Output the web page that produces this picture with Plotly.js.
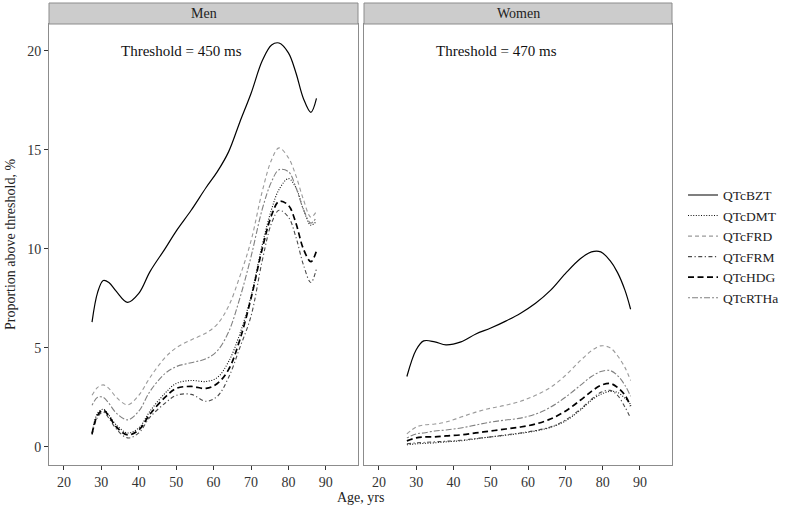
<!DOCTYPE html>
<html>
<head>
<meta charset="utf-8">
<script src="https://cdn.plot.ly/plotly-3.0.1.min.js"></script>
<style>
html,body{margin:0;padding:0;background:#fff;}
#chart{width:785px;height:507px;}
</style>
</head>
<body>
<div id="chart"></div>
<script>
// ---- Data ----
const panels = ["Men", "Women"];
const thresholds = ["Threshold = 450 ms", "Threshold = 470 ms"];
const seriesNames = ["QTcBZT", "QTcDMT", "QTcFRD", "QTcFRM", "QTcHDG", "QTcRTHa"];
const xTicks = [20, 30, 40, 50, 60, 70, 80, 90];
const yTicks = [0, 5, 10, 15, 20];

const ageMen = [27.5, 29, 30.5, 32, 34, 37, 40, 43, 47, 50, 54, 58, 61, 64, 67, 70, 73, 75.5, 77.5, 80, 82, 84, 86, 87.5];
const menBZT  = [6.3, 7.8, 8.4, 8.3, 7.85, 7.3, 7.75, 8.85, 10.0, 10.9, 11.95, 13.1, 13.9, 14.9, 16.4, 17.85, 19.5, 20.3, 20.4, 19.9, 18.9, 17.6, 16.9, 17.6];
const menDMT  = [0.7, 1.7, 1.9, 1.6, 1.1, 0.7, 0.95, 1.8, 2.7, 3.2, 3.35, 3.3, 3.5, 4.3, 5.7, 7.6, 10.2, 12.0, 13.0, 13.55, 13.1, 12.0, 11.2, 11.4];
const menFRD  = [2.6, 3.0, 3.13, 2.95, 2.5, 2.12, 2.6, 3.5, 4.5, 5.0, 5.4, 5.75, 6.2, 7.1, 8.6, 10.4, 12.9, 14.5, 15.1, 14.6, 13.7, 12.5, 11.6, 11.9];
const menFRM  = [0.6, 1.5, 1.75, 1.45, 0.9, 0.45, 0.7, 1.5, 2.2, 2.6, 2.65, 2.3, 2.55, 3.5, 5.0, 6.6, 9.4, 11.3, 11.95, 11.6, 10.6, 9.2, 8.3, 9.0];
const menHDG  = [0.65, 1.6, 1.85, 1.55, 1.0, 0.6, 0.85, 1.65, 2.5, 2.95, 3.05, 2.95, 3.2, 3.9, 5.4, 7.5, 10.0, 11.7, 12.4, 12.2, 11.3, 10.0, 9.35, 9.9];
const menRTHa = [2.1, 2.5, 2.5, 2.2, 1.7, 1.36, 1.8, 2.8, 3.7, 4.05, 4.25, 4.45, 4.85, 5.8, 7.5, 9.6, 12.0, 13.4, 14.0, 13.9, 13.1, 12.0, 11.3, 11.6];

const ageWomen = [27.5, 30, 32, 35, 38, 42, 46, 50, 54, 58, 62, 66, 70, 74, 77, 79.5, 82, 84, 86, 87.5];
const womenBZT  = [3.55, 4.9, 5.35, 5.3, 5.15, 5.3, 5.7, 6.0, 6.35, 6.75, 7.25, 7.9, 8.75, 9.5, 9.85, 9.85, 9.4, 8.8, 7.9, 6.95];
const womenDMT  = [0.1, 0.15, 0.17, 0.2, 0.25, 0.3, 0.4, 0.5, 0.58, 0.68, 0.8, 0.98, 1.3, 1.85, 2.35, 2.65, 2.8, 2.75, 2.45, 2.15];
const womenFRD  = [0.65, 1.0, 1.1, 1.15, 1.25, 1.5, 1.75, 1.95, 2.1, 2.3, 2.6, 3.0, 3.6, 4.35, 4.85, 5.1, 5.0, 4.6, 4.0, 3.35];
const womenFRM  = [0.15, 0.2, 0.22, 0.25, 0.28, 0.33, 0.42, 0.5, 0.6, 0.7, 0.82, 1.0, 1.35, 1.9, 2.4, 2.75, 2.85, 2.6, 2.0, 1.45];
const womenHDG  = [0.3, 0.45, 0.5, 0.5, 0.55, 0.6, 0.7, 0.8, 0.9, 1.0, 1.15, 1.4, 1.8, 2.35, 2.8, 3.1, 3.2, 3.0, 2.6, 2.05];
const womenRTHa = [0.45, 0.65, 0.7, 0.8, 0.85, 0.95, 1.1, 1.25, 1.35, 1.45, 1.65, 2.0, 2.5, 3.1, 3.55, 3.8, 3.85, 3.6, 3.1, 2.55];

// ---- Styles ----
const styles = {
  QTcBZT:  {color: "#000000", width: 1.2, dash: "solid"},
  QTcDMT:  {color: "#111111", width: 1.1, dash: "1px,1.6px"},
  QTcFRD:  {color: "#9a9a9a", width: 1.1, dash: "4px,3px"},
  QTcFRM:  {color: "#4a4a4a", width: 1.1, dash: "4px,2.5px,1.2px,2.5px"},
  QTcHDG:  {color: "#000000", width: 1.7, dash: "6px,3.5px"},
  QTcRTHa: {color: "#808080", width: 1.1, dash: "2px,2px,6px,2px"}
};

const menData = [menBZT, menDMT, menFRD, menFRM, menHDG, menRTHa];
const womenData = [womenBZT, womenDMT, womenFRD, womenFRM, womenHDG, womenRTHa];

const traces = [];
seriesNames.forEach((name, i) => {
  const st = styles[name];
  traces.push({
    x: ageMen, y: menData[i], type: "scatter", mode: "lines", name: name,
    legendgroup: name, showlegend: true, xaxis: "x", yaxis: "y",
    line: {color: st.color, width: st.width, dash: st.dash, shape: "spline", smoothing: 1}
  });
  traces.push({
    x: ageWomen, y: womenData[i], type: "scatter", mode: "lines", name: name,
    legendgroup: name, showlegend: false, xaxis: "x2", yaxis: "y2",
    line: {color: st.color, width: st.width, dash: st.dash, shape: "spline", smoothing: 1}
  });
});

const FONT = "'Liberation Serif', 'Times New Roman', serif";
const borderColor = "#8c8c8c";
const plotW = 672 - 49;
const plotH = 465 - 24;
const menDomain = [0, 309 / plotW];
const womenDomain = [(364 - 49) / plotW, 1];
const stripTop = 1 + 21 / plotH;

const xBase = {
  range: [16.0, 98.6], tickvals: xTicks, ticktext: xTicks.map(String),
  ticks: "outside", ticklen: 4, tickcolor: "#333", tickwidth: 1,
  showline: true, mirror: true, linecolor: borderColor, linewidth: 1,
  showgrid: false, zeroline: false,
  tickfont: {family: FONT, size: 14, color: "#333"}
};
const yBase = {
  range: [-0.92, 21.36], tickvals: yTicks, ticktext: yTicks.map(String),
  showline: true, mirror: true, linecolor: borderColor, linewidth: 1,
  showgrid: false, zeroline: false,
  tickfont: {family: FONT, size: 14, color: "#333"}
};

const layout = {
  width: 785, height: 507,
  margin: {l: 49, r: 113, t: 24, b: 42, pad: 0, autoexpand: false},
  paper_bgcolor: "#ffffff", plot_bgcolor: "#ffffff",
  font: {family: FONT, size: 14, color: "#222"},
  showlegend: true,
  legend: {
    x: 1.0177, xanchor: "left", y: 0.495, yanchor: "middle",
    bgcolor: "rgba(0,0,0,0)", borderwidth: 0,
    font: {family: FONT, size: 13.5, color: "#222"},
    tracegroupgap: 0
  },
  xaxis: Object.assign({}, xBase, {domain: menDomain, anchor: "y", automargin: false}),
  xaxis2: Object.assign({}, xBase, {domain: womenDomain, anchor: "y2", automargin: false}),
  yaxis: Object.assign({}, yBase, {domain: [0, 1], anchor: "x", ticks: "outside", ticklen: 4, tickcolor: "#333", automargin: false,
    title: {text: "Proportion above threshold, %", font: {family: FONT, size: 14, color: "#222"}, standoff: 8}}),
  yaxis2: Object.assign({}, yBase, {domain: [0, 1], anchor: "x2", matches: "y", showticklabels: false, ticks: "", automargin: false}),
  shapes: [
    {type: "rect", xref: "x domain", yref: "paper", x0: 0, x1: 1, y0: 1, y1: stripTop,
     fillcolor: "#cccccc", line: {color: borderColor, width: 1}},
    {type: "rect", xref: "x2 domain", yref: "paper", x0: 0, x1: 1, y0: 1, y1: stripTop,
     fillcolor: "#cccccc", line: {color: borderColor, width: 1}}
  ],
  annotations: [
    {xref: "x domain", yref: "paper", x: 0.5, y: (1 + stripTop) / 2, text: panels[0], showarrow: false,
     xanchor: "center", yanchor: "middle", font: {family: FONT, size: 14, color: "#222"}},
    {xref: "x2 domain", yref: "paper", x: 0.5, y: (1 + stripTop) / 2, text: panels[1], showarrow: false,
     xanchor: "center", yanchor: "middle", font: {family: FONT, size: 14, color: "#222"}},
    {xref: "x", yref: "y", x: 51.5, y: 20, text: thresholds[0], showarrow: false,
     xanchor: "center", yanchor: "middle", font: {family: FONT, size: 15, color: "#111"}},
    {xref: "x2", yref: "y2", x: 51.6, y: 20, text: thresholds[1], showarrow: false,
     xanchor: "center", yanchor: "middle", font: {family: FONT, size: 15, color: "#111"}},
    {xref: "paper", yref: "paper", x: 0.5, y: -0.0726, text: "Age, yrs", showarrow: false,
     xanchor: "center", yanchor: "middle", font: {family: FONT, size: 14, color: "#222"}}
  ]
};

Plotly.newPlot("chart", traces, layout, {staticPlot: true, displayModeBar: false});
</script>
</body>
</html>
